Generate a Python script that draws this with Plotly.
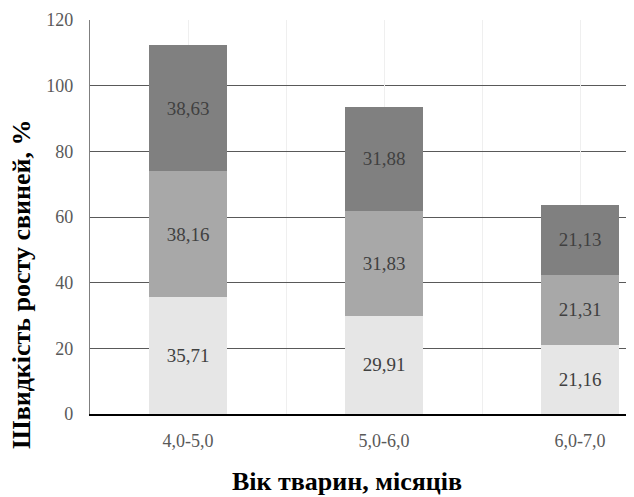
import plotly.graph_objects as go

categories = ["4,0-5,0", "5,0-6,0", "6,0-7,0"]
series1 = [35.71, 29.91, 21.16]
series2 = [38.16, 31.83, 21.31]
series3 = [38.63, 31.88, 21.13]
labels1 = ["35,71", "29,91", "21,16"]
labels2 = ["38,16", "31,83", "21,31"]
labels3 = ["38,63", "31,88", "21,13"]
y_ticks = [0, 20, 40, 60, 80, 100, 120]

xpos = list(range(len(categories)))
font_family = "Liberation Serif"

fig = go.Figure()
for vals, labs, color in [(series1, labels1, "#e6e6e6"),
                          (series2, labels2, "#a8a8a8"),
                          (series3, labels3, "#808080")]:
    fig.add_trace(go.Bar(
        x=xpos, y=vals, text=labs, textposition="inside", insidetextanchor="middle",
        textfont=dict(family=font_family, size=19, color="#404040"),
        marker=dict(color=color, line=dict(width=0)), width=0.4,
        hoverinfo="skip", cliponaxis=False,
    ))

fig.update_layout(
    barmode="stack", showlegend=False,
    width=626, height=489,
    margin=dict(l=82, r=1, t=12, b=82.5),
    plot_bgcolor="white", paper_bgcolor="white",
    font=dict(family=font_family, color="#595959"),
    xaxis=dict(
        range=[-0.5, 2.27], tickvals=xpos, ticktext=categories,
        showgrid=True, gridcolor="#efefef", gridwidth=1,
        minor=dict(tickvals=[0.5, 1.5], showgrid=True, gridcolor="#efefef", gridwidth=1),
        showline=True, linecolor="black", linewidth=1.5,
        ticks="", tickfont=dict(family=font_family, size=18, color="#595959"),
        ticklabelstandoff=10, zeroline=False,
    ),
    yaxis=dict(
        range=[0, 120], tickvals=y_ticks, showgrid=False,
        minor=dict(tickvals=[20, 40, 60, 80, 100], showgrid=True, gridcolor="#595959", gridwidth=1.3),
        showline=True, linecolor="#7f7f7f", linewidth=1.2,
        ticks="", tickfont=dict(family=font_family, size=18, color="#595959"),
        ticklabelstandoff=12, zeroline=False,
    ),
    annotations=[
        dict(text="<b>Вік тварин, місяців</b>", xref="paper", yref="paper",
             x=0.473, y=-0.171, xanchor="center", yanchor="middle", showarrow=False,
             font=dict(family=font_family, size=26, color="black")),
        dict(text="<b>Швидкість росту свиней, %</b>", xref="paper", yref="paper",
             x=-0.125, y=0.328, xanchor="center", yanchor="middle", showarrow=False,
             textangle=-90, font=dict(family=font_family, size=26, color="black")),
    ],
)

fig.write_html("out.html")
